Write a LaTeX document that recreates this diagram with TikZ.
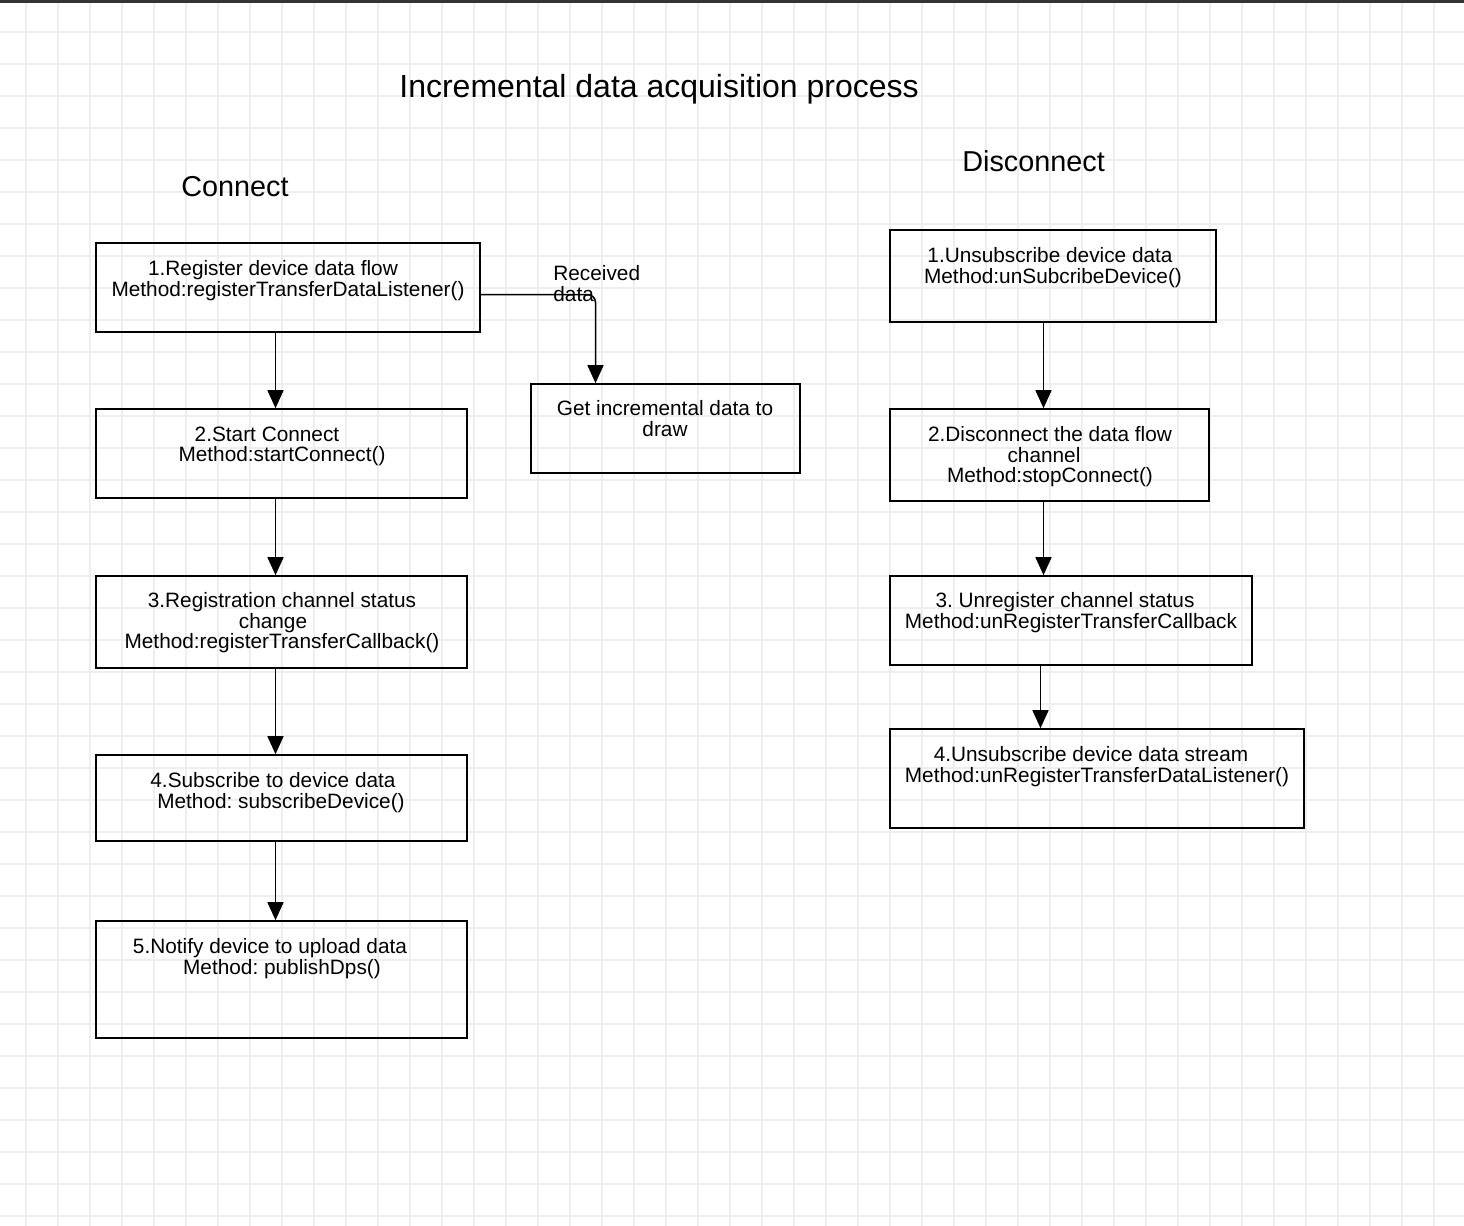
\documentclass[tikz,border=0pt]{standalone}
\usepackage{fontspec}
\setmainfont{Liberation Sans}
\usetikzlibrary{arrows.meta}
\frenchspacing
\newcommand{\pd}[1]{\rule{\dimexpr #1pt/2\relax}{0pt}}
\begin{document}
\begin{tikzpicture}[x=0.5pt,y=-0.5pt,
  box/.style 2 args={draw=black, line width=0.8pt, minimum width=#1*0.5pt, minimum height=#2*0.5pt, inner sep=0pt},
  txt/.style={align=center, anchor=north, inner sep=0pt, font=\fontsize{10.4}{10.1}\selectfont},
  arr/.style={line width=0.75pt, -{Triangle[width=8pt,length=9pt]}},
  hdr/.style={anchor=base west, inner sep=0pt, font=\fontsize{14.4}{16}\selectfont}]
\useasboundingbox (0,0) rectangle (1464,1226);
\fill[white] (0,0) rectangle (1464,1226);
% grid
\foreach \i in {0,...,45} {\draw[gray!13, line width=0.55pt] (26+32*\i,0) -- (26+32*\i,1226);}
\foreach \j in {1,...,38} {\draw[gray!13, line width=0.55pt] (0,32*\j) -- (1464,32*\j);}
\fill[black!80] (0,0) rectangle (1464,2.5);
% titles
\node[anchor=base west, inner sep=0pt, font=\fontsize{16}{18}\selectfont] (title) at (399,97.5) {Incremental data acquisition process};
\node[hdr] (conn) at (181,196.5) {Connect};
\node[hdr] (disc) at (962,171) {Disconnect};
% left boxes
\node[box={384}{89}] (b1) at (288,287.5) {};
\node[box={371}{89}] (b2) at (281.5,453.5) {};
\node[box={371}{92}] (b3) at (281.5,622) {};
\node[box={371}{86}] (b4) at (281.5,798) {};
\node[box={371}{117}] (b5) at (281.5,979.5) {};
\node[box={269}{89}] (get) at (665.5,428.5) {};
% right boxes
\node[box={326}{92}] (r1) at (1053,276) {};
\node[box={319}{92}] (r2) at (1049.5,455) {};
\node[box={362}{89}] (r3) at (1071,620.5) {};
\node[box={414}{99}] (r4) at (1097,778.5) {};
% texts
\node[txt] (t1) at (288,260.5) {1.Register device data flow\pd{30}\\Method:registerTransferDataListener()};
\node[txt] (t2) at (282,426.5) {2.Start Connect\pd{30}\\Method:startConnect()};
\node[txt] (t3) at (282,592.5) {3.Registration channel status\\change\pd{18}\\Method:registerTransferCallback()};
\node[txt] (t4) at (281,772.5) {4.Subscribe to device data\pd{16}\\Method: subscribeDevice()};
\node[txt] (t5) at (282,938.5) {5.Notify device to upload data\pd{24}\\Method: publishDps()};
\node[txt] (tg) at (665,400.5) {Get incremental data to\\draw};
\node[txt] (u1) at (1053,247.5) {1.Unsubscribe device data\pd{6}\\Method:unSubcribeDevice()};
\node[txt] (u2) at (1050,426.5) {2.Disconnect the data flow\\channel\pd{12}\\Method:stopConnect()};
\node[txt] (u3) at (1071,592.5) {3. Unregister channel status\pd{12}\\Method:unRegisterTransferCallback};
\node[txt] (u4) at (1097,746.5) {4.Unsubscribe device data stream\pd{12}\\Method:unRegisterTransferDataListener()};
\node[align=left, anchor=north west, inner sep=0pt, font=\fontsize{10.4}{10.4}\selectfont] (rcvl) at (553,265) {Received\\data};
% connectors
\coordinate (colL) at (275.5,0);
\coordinate (colR) at (1043.5,0);
\coordinate (colR2) at (1040.5,0);
\coordinate (rcv) at (595.5,294.5);
\draw[arr] (b1.south -| colL) -- (b2.north -| colL);
\draw[arr] (b2.south -| colL) -- (b3.north -| colL);
\draw[arr] (b3.south -| colL) -- (b4.north -| colL);
\draw[arr] (b4.south -| colL) -- (b5.north -| colL);
\draw[arr, rounded corners=4pt] (b1.east |- rcv) -| (get.north -| rcv);
\draw[arr] (r1.south -| colR) -- (r2.north -| colR);
\draw[arr] (r2.south -| colR) -- (r3.north -| colR);
\draw[arr] (r3.south -| colR2) -- (r4.north -| colR2);
\end{tikzpicture}
\end{document}
